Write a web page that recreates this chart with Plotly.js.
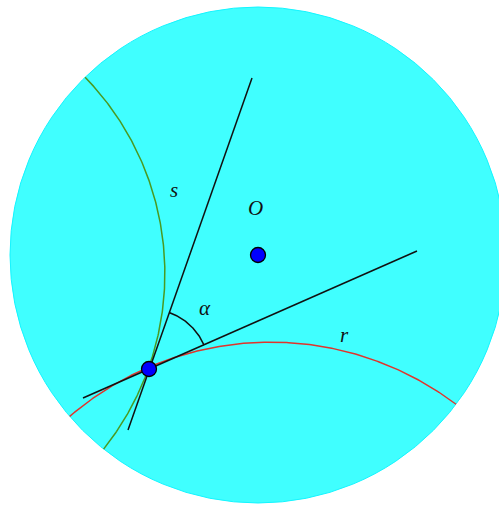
<!DOCTYPE html>
<html>
<head>
<meta charset="utf-8">
<script src="https://cdn.plot.ly/plotly-3.0.1.min.js"></script>
<style>html,body{margin:0;padding:0;background:#fff;}#chart{width:499px;height:505px;}</style>
</head>
<body>
<div id="chart"></div>
<script>
// Poincaré disk (unit radius)
const diskCenter = [0, 0];
const diskRadius = 1;
const pointNames = ["P", "O"];
const pointX = [-0.4395, 0];
const pointY = [-0.4597, 0];
// geodesics given by their ideal end points (angles in degrees on the boundary)
const geoNames = ["r", "s"];
const geoStartDeg = [-139.4, 134.2];
const geoEndDeg = [-37.0, 231.5];
const geoColors = ["#e0342c", "#4a9a22"];
// tangent segments through P
const tanX0 = [-0.7056, -0.5242];
const tanY0 = [-0.5766, -0.7056];
const tanX1 = [0.6411, -0.0242];
const tanY1 = [0.0161, 0.7137];
// angle marker alpha at P
const angleRadius = 0.242;
const angleFromDeg = 23.5;
const angleToDeg = 70.4;
// labels
const labelText = ["s", "O", "α", "r"];
const labelX = [-0.3387, -0.0121, -0.2137, 0.3468];
const labelY = [0.2621, 0.1895, -0.2137, -0.3226];

const deg = Math.PI / 180;
const N = 240;
function geodesic(a1, a2) {
  const phi = (a1 + a2) / 2 * deg, dl = (a2 - a1) / 2 * deg;
  const d = 1 / Math.cos(dl), rho = Math.tan(dl);
  const cx = d * Math.cos(phi), cy = d * Math.sin(phi);
  const half = Math.PI / 2 - dl;
  const xs = [], ys = [];
  for (let i = 0; i <= N; i++) {
    const t = phi + Math.PI - half + 2 * half * i / N;
    xs.push(cx + rho * Math.cos(t));
    ys.push(cy + rho * Math.sin(t));
  }
  return {xs, ys};
}

const traces = [];
for (let k = 0; k < geoNames.length; k++) {
  const g = geodesic(geoStartDeg[k], geoEndDeg[k]);
  traces.push({x: g.xs, y: g.ys, mode: "lines", line: {color: geoColors[k], width: 1.5}, hoverinfo: "skip"});
}
for (let k = 0; k < tanX0.length; k++) {
  traces.push({x: [tanX0[k], tanX1[k]], y: [tanY0[k], tanY1[k]], mode: "lines", line: {color: "#111", width: 1.5}, hoverinfo: "skip"});
}
{
  const xs = [], ys = [];
  for (let i = 0; i <= 60; i++) {
    const t = (angleFromDeg + (angleToDeg - angleFromDeg) * i / 60) * deg;
    xs.push(pointX[0] + angleRadius * Math.cos(t));
    ys.push(pointY[0] + angleRadius * Math.sin(t));
  }
  traces.push({x: xs, y: ys, mode: "lines", line: {color: "#111", width: 1.5}, hoverinfo: "skip"});
}
traces.push({x: pointX, y: pointY, text: pointNames, mode: "markers",
  marker: {color: "#0000ff", size: 15, line: {color: "#000", width: 1.3}}, hoverinfo: "skip"});

const annotations = labelText.map((t, i) => ({
  x: labelX[i], y: labelY[i], text: "<i>" + t + "</i>", showarrow: false,
  font: {family: "Liberation Serif, DejaVu Serif, serif", size: 21, color: "#111"},
  xanchor: "center", yanchor: "middle"
}));

const W = 499, H = 505, cxp = 258, cyp = 255, s = 248;
const layout = {
  width: W, height: H,
  margin: {l: 0, r: 0, t: 0, b: 0, pad: 0},
  paper_bgcolor: "#fff", plot_bgcolor: "#fff",
  showlegend: false,
  xaxis: {range: [-cxp / s, (W - cxp) / s], visible: false, fixedrange: true},
  yaxis: {range: [(cyp - H) / s, cyp / s], visible: false, fixedrange: true},
  shapes: [{type: "circle", xref: "x", yref: "y",
    x0: diskCenter[0] - diskRadius, x1: diskCenter[0] + diskRadius,
    y0: diskCenter[1] - diskRadius, y1: diskCenter[1] + diskRadius,
    fillcolor: "rgb(64,255,255)", line: {color: "rgb(20,245,255)", width: 1}, layer: "below"}],
  annotations: annotations
};
Plotly.newPlot("chart", traces, layout, {displayModeBar: false, staticPlot: true});
</script>
</body>
</html>
